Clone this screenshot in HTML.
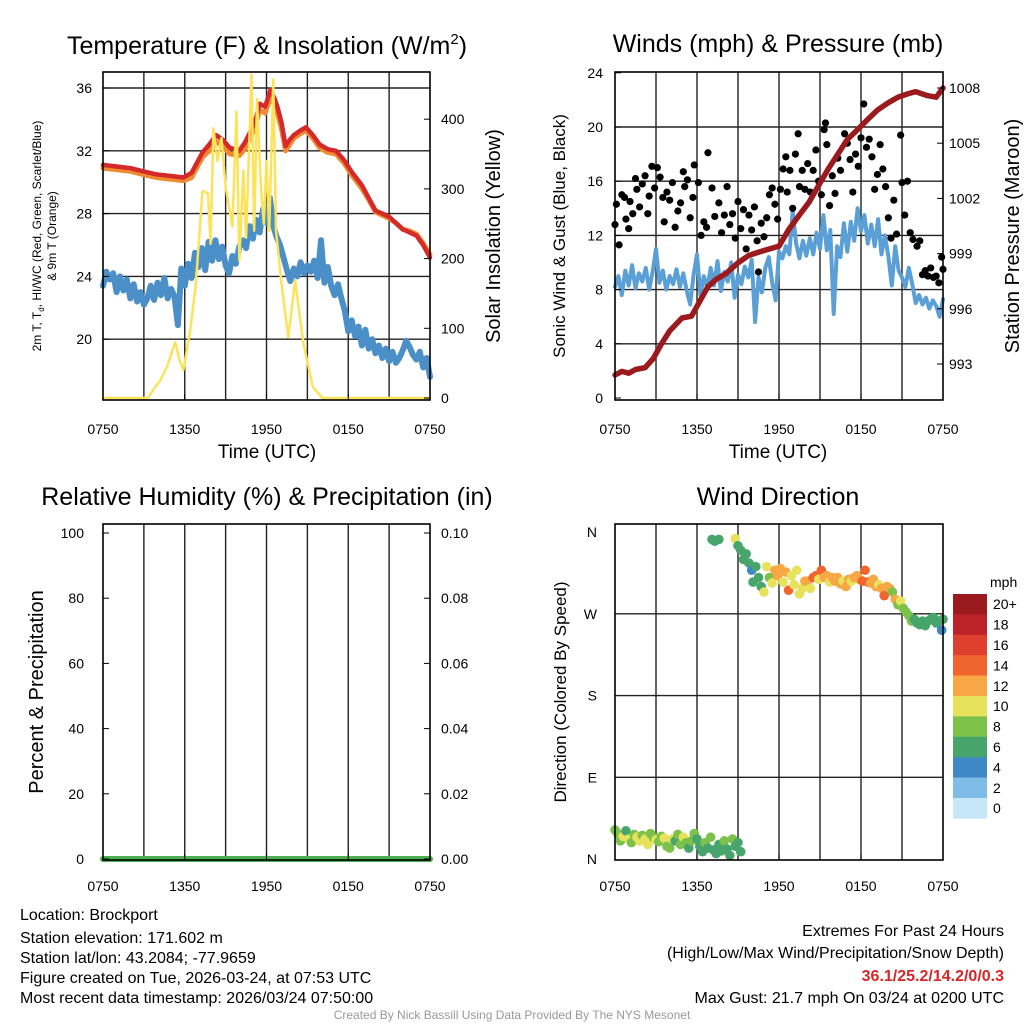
<!DOCTYPE html>
<html><head><meta charset="utf-8"><style>
html,body{margin:0;padding:0;background:#fff;}
svg{display:block;font-family:"Liberation Sans",Arial,sans-serif;}
</style></head><body>
<svg id="chart" width="1024" height="1024" viewBox="0 0 1024 1024">
<rect x="0" y="0" width="1024" height="1024" fill="#fff"/>
<g id="grid"></g><g id="marks"></g><g id="frames"></g>
<g font-size="25" text-anchor="middle" fill="#000">
<text x="267" y="54">Temperature (F) &amp; Insolation (W/m<tspan font-size="15" dy="-10">2</tspan><tspan dy="10">)</tspan></text>
<text x="778" y="52">Winds (mph) &amp; Pressure (mb)</text>
<text x="267" y="505">Relative Humidity (%) &amp; Precipitation (in)</text>
<text x="778" y="505">Wind Direction</text>
</g>
<g font-size="19" text-anchor="middle">
<text x="267" y="458">Time (UTC)</text>
<text x="778" y="458">Time (UTC)</text>
<text transform="translate(500,236) rotate(-90)" font-size="20">Solar Insolation (Yellow)</text>
<text transform="translate(565,236) rotate(-90)" font-size="17">Sonic Wind &amp; Gust (Blue, Black)</text>
<text transform="translate(1019,236) rotate(-90)" font-size="20">Station Pressure (Maroon)</text>
<text transform="translate(43,692) rotate(-90)" font-size="20">Percent &amp; Precipitation</text>
<text transform="translate(566,692) rotate(-90)" font-size="17">Direction (Colored By Speed)</text>
<text transform="translate(41,236) rotate(-90)" font-size="12">2m T, T<tspan font-size="8" dy="3">d</tspan><tspan dy="-3">, HI/WC (Red, Green, Scarlet/Blue)</tspan></text>
<text transform="translate(56,236) rotate(-90)" font-size="12">&amp; 9m T (Orange)</text>
</g>
<g font-size="16">
<text x="20" y="920">Location: Brockport</text>
<text x="20" y="943">Station elevation: 171.602 m</text>
<text x="20" y="963">Station lat/lon: 43.2084; -77.9659</text>
<text x="20" y="983">Figure created on Tue, 2026-03-24, at 07:53 UTC</text>
<text x="20" y="1003">Most recent data timestamp: 2026/03/24 07:50:00</text>
<g text-anchor="end">
<text x="1004" y="936">Extremes For Past 24 Hours</text>
<text x="1004" y="958">(High/Low/Max Wind/Precipitation/Snow Depth)</text>
<text x="1004" y="981" fill="#d62728" font-weight="bold">36.1/25.2/14.2/0/0.3</text>
<text x="1004" y="1003">Max Gust: 21.7 mph On 03/24 at 0200 UTC</text>
</g>
<text x="512" y="1019" font-size="12" fill="#999" text-anchor="middle">Created By Nick Bassill Using Data Provided By The NYS Mesonet</text>
</g>
<g id="ticklabels" font-size="14"></g>
<g id="colorbar"></g>
</svg>
<script>
// ---- data ----
var tempH=[0,1,2,2.9,3.9,4.9,5.9,6.5,7.3,7.8,8.3,8.8,9.3,10,10.4,10.8,11.2,11.5,11.9,12.3,12.6,12.8,13.1,13.4,13.7,14,14.5,14.9,15.4,15.9,16.5,17.1,17.7,18.3,19,19.5,20,20.5,21,21.5,22,22.5,23,23.5,24];
var tempV=[31.1,31.0,30.9,30.7,30.5,30.4,30.3,30.6,31.9,32.4,33.0,32.7,32.2,32.0,32.5,33.2,34.0,35.0,34.8,35.9,35.3,34.8,33.8,32.3,32.7,33.0,33.3,33.5,33.0,32.4,32.1,32.0,31.4,30.6,29.8,29.0,28.2,28.0,27.8,27.4,27.0,26.8,26.6,26.0,25.2];
var temp9V=[30.9,30.8,30.7,30.5,30.3,30.2,30.1,30.3,31.6,32.0,32.6,32.3,31.8,31.7,32.1,32.8,33.6,34.6,34.4,35.4,34.9,34.4,33.4,32.0,32.4,32.8,33.1,33.3,32.8,32.2,31.9,31.8,31.2,30.4,29.6,28.9,28.1,27.9,27.7,27.4,27.0,26.9,26.7,26.1,25.4];
var dewV=[23.4,24.3,23.8,24.2,23.0, 24.0,23.1,23.8,22.6, 23.5,22.4,23.0,22.2, 22.6,23.4,22.5,23.6, 22.8,23.9,22.6,23.2, 22.7,20.9,24.5,23.4, 24.8,23.9,25.5,24.6, 25.8,24.4,26.2,25.0, 26.3,25.1,25.9,24.7, 24.2,25.3,24.8,25.9, 26.3,25.8,27.2,26.4, 27.6,26.8,28.3,27.4, 29.0,27.2,26.5,26.0, 25.2,24.4,23.7,24.5, 24.0,24.9,24.2,24.7, 24.3,25.0,23.9,26.3, 23.6,24.6,23.4,22.8, 23.5,22.6,21.8,20.5, 21.2,20.2,20.8,19.6, 20.6,19.4,20.0,19.1, 19.6,18.8,19.4,18.6, 19.2,18.5,18.8,19.3, 19.9,19.5,19.0,18.7, 19.2,18.2,18.8,17.6];
var solH=[0,3.3,3.8,4.2,4.7,5.3,5.6,5.9,6.4,6.8,7.3,7.7,7.9,8.1,8.4,8.7,9.0,9.3,9.5,9.8,10.0,10.3,10.5,10.9,11.1,11.3,11.6,11.8,12.0,12.2,12.5,12.7,13.1,13.6,14.1,14.7,15.4,16.1,24];
var solW=[0,0,15,25,45,80,55,40,97,160,297,294,221,387,340,373,303,269,246,411,197,326,230,464,240,429,301,250,340,240,457,240,164,87,169,79,16,0,0];
var windV=[8.2,9.0,7.6,9.4,8.3, 9.8,8.1,9.2,8.6, 9.6,8.0,9.3,11.0, 8.5,9.4,8.0,9.0, 8.4,9.5,8.2,9.2, 7.9,6.9,9.1,10.6, 7.6,9.0,8.1,9.6, 8.3,10.1,7.9,9.3, 8.6,10.0,7.4,9.1, 8.4,9.7,8.9,10.2, 5.6,8.9,7.8,9.6, 10.4,8.5,7.2,10.8, 10.3,11.2,10.6,13.8, 11.4,10.3,11.6,10.5, 11.8,10.6,12.2,11.0, 13.5,10.9,12.4,6.2, 11.2,10.4,12.9,10.8, 13.0,11.6,14.0,12.3, 13.5,11.4,12.8,11.2, 13.2,10.6,12.0,10.5, 8.3,11.2,9.4,8.9, 8.2,9.6,8.4,7.0, 7.6,6.9,7.4,6.6, 7.2,6.8,6.0,7.3];
var gustH=[0.0,0.1,0.3,0.5,0.7,0.8,1.0,1.1,1.3,1.5,1.6,1.8,2.0,2.2,2.4,2.5,2.7,2.9,3.1,3.3,3.5,3.6,3.8,4.0,4.2,4.4,4.6,4.8,5.0,5.1,5.3,5.5,5.7,5.8,6.1,6.3,6.5,6.7,6.8,7.1,7.3,7.6,7.8,8.0,8.2,8.4,8.6,8.8,9.0,9.2,9.4,9.6,9.8,10.0,10.2,10.4,10.5,10.7,10.9,11.1,11.3,11.5,11.7,11.9,12.1,12.3,12.5,12.6,12.8,13.0,13.2,13.4,13.5,13.7,13.9,14.1,14.3,14.5,14.7,14.9,15.1,15.3,15.4,15.5,15.7,15.9,16.1,16.3,16.5,16.8,17.0,17.2,17.4,17.6,17.8,18.0,18.2,18.4,18.6,18.8,19.0,19.2,19.4,19.6,19.8,20.0,20.2,20.4,20.6,20.9,21.0,21.2,21.4,21.6,21.8,22.1,22.3,22.5,22.7,22.9,23.1,23.3,23.5,23.7,23.9,24.0];
var gustV=[12.8,14.3,11.3,15.0,14.8,13.2,12.5,14.5,13.6,16.2,15.4,14.1,15.8,16.4,13.6,14.9,17.1,15.5,17.0,16.3,14.8,13.0,15.2,14.6,15.9,12.6,13.8,14.4,16.7,15.6,16.1,13.3,14.8,17.2,15.9,12.0,13.0,12.6,18.1,15.5,13.4,14.4,12.2,13.5,15.6,12.8,13.6,11.8,14.5,12.5,13.9,11.0,13.5,12.4,14.1,11.6,9.3,12.9,11.9,13.3,15.0,15.5,14.3,13.2,15.4,16.9,17.8,15.2,16.8,14.0,18.0,19.5,15.6,16.8,15.4,17.3,15.2,16.8,18.3,16.0,15.0,19.8,20.3,18.7,14.2,16.4,15.1,17.7,16.8,19.5,18.8,17.6,15.2,18.0,17.1,19.2,21.7,18.5,19.1,17.8,15.4,16.5,18.7,16.9,15.6,13.3,11.8,14.6,12.1,19.4,15.9,13.5,16.0,12.2,11.7,11.2,11.6,9.1,9.4,9.0,9.6,8.9,9.0,8.5,10.4,9.5];
var presH=[0,0.5,1,1.5,2.2,2.8,3.4,4.0,4.9,5.6,6.2,6.8,7.4,8.1,9.0,9.8,10.6,11.5,12.0,12.7,13.4,14.2,14.9,15.6,16.3,17.0,17.7,18.5,19.2,20.0,20.7,21.5,22.0,22.8,23.5,24];
var presV=[992.4,992.6,992.5,992.7,992.8,993.3,994.1,994.8,995.5,995.6,996.4,997.2,997.6,997.9,998.5,998.9,999.1,999.3,999.4,1000.3,1001.0,1001.8,1002.7,1003.6,1004.4,1005.2,1005.7,1006.3,1006.8,1007.2,1007.5,1007.7,1007.8,1007.6,1007.5,1008.0];
var dirH=[0,0.2,0.4,0.6,0.8,1.0,1.2,1.4,1.6,1.8,2.0,2.2,2.4,2.6,2.8,3.0,3.2,3.4,3.6,3.8,4.0,4.2,4.4,4.6,4.8,5.0,5.2,5.4,5.6,5.8,6.0,6.2,6.4,6.6,6.8,7.0,7.2,7.4,7.6,7.8,8.0,8.2,8.4,8.6,8.8,9.0,9.2,
 7.1,7.3,7.6,8.8,9.0,9.2,9.4,9.6,9.8,10.0, 10.1,10.3,10.5,10.7,10.9,11.1,11.3,11.5,11.7,11.9, 12.1,12.3,12.5,12.7,12.9,13.1,13.3,13.5,13.7,13.9, 14.1,14.3,14.5,14.7,14.9,15.1,15.3,15.5,15.7,15.9, 16.1,16.3,16.5,16.7,16.9,17.1,17.3,17.5,17.7,17.9, 18.1,18.3,18.5,18.7,18.9,19.1,19.3,19.5,19.7,19.9, 20.1,20.3,20.5,20.7,20.9,21.1,21.3,21.5,21.7,21.9, 22.1,22.3,22.5,22.7,22.9,23.1,23.3,23.5,23.7,23.9,24.0];
var dirD=[32,28,20,25,31,22,18,27,24,20,26,22,16,28,24,21,19,25,23,14,12,22,20,27,16,24,18,12,20,28,22,14,8,18,12,24,10,6,16,9,20,11,4,22,14,18,8,
 352,350,352,353,345,340,330,336,326,318, 305,322,310,300,294,322,310,304,318,312, 320,305,316,296,312,302,318,292,298,306, 306,298,310,312,308,318,310,312,305,310, 306,310,303,306,300,308,306,310,312,308, 306,318,305,304,308,300,302,298,290,300, 298,294,286,280,284,276,272,268,262,264, 260,258,262,257,262,264,266,260,262,252,264];
var dirS=[8,8,9,10,7,10,9,8,10,10,9,10,10,9,8,10,9,8,10,9,9,10,7,8,9,10,8,7,9,8,6,7,6,8,6,8,7,6,7,6,8,7,6,8,7,6,7,
 7,7,7,10,7,7,6,6,7,4, 6,7,7,6,10,10,8,10,12,12, 12,10,12,14,10,10,11,10,10,12, 12,10,14,14,10,14,12,12,11,12, 12,12,12,11,12,12,10,12,12,13, 14,14,14,13,12,12,10,12,14,12, 12,9,12,8,10,8,8,8,8,7, 7,6,7,6,6,6,6,7,6,4,6];
var precipH=[0,24];
var precipV=[0,0];
var xTickLabels=["0750","1350","1950","0150","0750"];
var tempTicks=[20,24,28,32,36];
var solTicks=[0,100,200,300,400];
var windTicks=[0,4,8,12,16,20,24];
var presTicks=[993,996,999,1002,1005,1008];
var rhTicks=[0,20,40,60,80,100];
var rainTicks=["0.00","0.02","0.04","0.06","0.08","0.10"];
var dirTicks=["N","E","S","W","N"];
var cbLabels=["0","2","4","6","8","10","12","14","16","18","20+"];
var cbColors=["#c6e7f8","#80bce8","#3f88c6","#47a56c","#7cc24a","#e6e25b","#f7a744","#ef652d","#de3f2e","#be2229","#9a1a1d"];

// ---- scales ----
var L1=103,R1=430,L2=615,R2=943;
function x1(h){return L1+h*(R1-L1)/24;}
function x2(h){return L2+h*(R2-L2)/24;}
function yT(f){return 88+(36-f)*15.7;}
function yS(w){return 398-w*0.697;}
function yW(m){return 398-m*13.55;}
function yP(p){return 364-(p-993)*18.4;}
function yR(v){return 859-v*3.26;}
function yD(d){return 859-d*0.908;}

var NS="http://www.w3.org/2000/svg";
function el(tag,parent){var e=document.createElementNS(NS,tag);parent.appendChild(e);return e;}
var grid=document.getElementById('grid'),marks=document.getElementById('marks'),frames=document.getElementById('frames'),tl=document.getElementById('ticklabels'),cb=document.getElementById('colorbar');

function line(p,xa,ya,xb,yb,c,w){var e=el('line',p);e.setAttribute('x1',xa);e.setAttribute('y1',ya);e.setAttribute('x2',xb);e.setAttribute('y2',yb);e.setAttribute('stroke',c);e.setAttribute('stroke-width',w);return e;}
function txt(p,x,y,s,anchor){var e=el('text',p);e.setAttribute('x',x);e.setAttribute('y',y);e.setAttribute('text-anchor',anchor);e.textContent=s;return e;}

var panels=[[L1,72,R1,400,x1],[L2,72,R2,400,x2],[L1,524,R1,860,x1],[L2,524,R2,860,x2]];
panels.forEach(function(P,pi){
  for(var h=3;h<24;h+=3){
    var g=line(grid,P[4](h),P[1],P[4](h),P[3],'#222',1.4);
    
    
  }
  for(var i=0;i<5;i++){
    var t=txt(tl,P[4](i*6),pi<2?434:891,xTickLabels[i],'middle');
    
    
    line(frames,P[4](i*6),P[3],P[4](i*6),P[3]-6,'#000',1);
  }
  var f=el('rect',frames);
  f.setAttribute('x',P[0]);f.setAttribute('y',P[1]);f.setAttribute('width',P[2]-P[0]);f.setAttribute('height',P[3]-P[1]);
  f.setAttribute('fill','none');f.setAttribute('stroke','#000');f.setAttribute('stroke-width',1.6);
  
  
});
tempTicks.forEach(function(v){var y=yT(v);var g=line(grid,L1,y,R1,y,'#222',1.4);
  
  
  line(frames,L1,y,L1+6,y,'#000',1);
  var t=txt(tl,92,y+5,String(v),'end');
  
  });
solTicks.forEach(function(v){var y=yS(v);line(frames,R1-6,y,R1,y,'#000',1);
  var t=txt(tl,441,y+5,String(v),'start');
  
  });
windTicks.forEach(function(v){var y=yW(v);if(v>0&&v<24){var g=line(grid,L2,y,R2,y,'#222',1.4);
  
  }
  line(frames,L2,y,L2+6,y,'#000',1);
  var t=txt(tl,603,y+5,String(v),'end');
  
  });
presTicks.forEach(function(v){var y=yP(v);line(frames,R2-6,y,R2,y,'#000',1);
  var t=txt(tl,949,y+5,String(v),'start');
  
  });
rhTicks.forEach(function(v,i){var y=yR(v);line(frames,L1,y,L1+6,y,'#000',1);line(frames,R1-6,y,R1,y,'#000',1);
  var t=txt(tl,84,y+5,String(v),'end');
  
  
  var t2=txt(tl,441,y+5,rainTicks[i],'start');
  
  });
dirTicks.forEach(function(s,i){var y=yD(i*90);if(i>0&&i<4){var g=line(grid,L2,y,R2,y,'#222',1.4);
  
  }
  var t=txt(tl,597,y+5,s,'end');
  
  });

function poly(xs,ys,xf,yf,color,w,name){
  var pts=xs.map(function(h,i){return xf(h).toFixed(1)+','+yf(ys[i]).toFixed(1);}).join(' ');
  var p=el('polyline',marks);
  p.setAttribute('points',pts);p.setAttribute('fill','none');p.setAttribute('stroke',color);
  p.setAttribute('stroke-width',w);p.setAttribute('stroke-linejoin','round');p.setAttribute('stroke-linecap','round');
  
  
  return p;
}
var qH=dewV.map(function(v,i){return i*0.25;});
poly(qH,dewV,x1,yT,'#4a8fc7',6,'dewpoint-line');
poly(tempH,temp9V,x1,yT,'#f08a30',5,'temp-9m-line');
poly(tempH,tempV,x1,yT,'#d42a2a',4.5,'temp-2m-line');
poly(solH,solW,x1,yS,'#fbe35a',2.5,'insolation-line');
poly(qH,windV,x2,yW,'#5a9fd6',4,'wind-speed-line');
gustH.forEach(function(h,i){var c=el('circle',marks);
  c.setAttribute('cx',x2(h));c.setAttribute('cy',yW(gustV[i]));c.setAttribute('r',3.6);c.setAttribute('fill','#000');
  
  });
poly(presH,presV,x2,yP,'#9b1a1d',5.5,'pressure-line');
poly(precipH,precipV,x1,yR,'#4caf50',6,'precip-line');
dirH.forEach(function(h,i){var c=el('circle',marks);
  var k=Math.min(10,Math.floor(dirS[i]/2));
  c.setAttribute('cx',x2(h));c.setAttribute('cy',yD(dirD[i]));c.setAttribute('r',4.8);c.setAttribute('fill',cbColors[k]);
  
  });
var cbTop=594,cbH=20.4;
for(var i=0;i<11;i++){
  var k=10-i;var r=el('rect',cb);
  r.setAttribute('x',953);r.setAttribute('y',cbTop+i*cbH);r.setAttribute('width',34);r.setAttribute('height',cbH+0.3);r.setAttribute('fill',cbColors[k]);
  
  
  var t=txt(cb,993,cbTop+i*cbH+cbH/2+5,cbLabels[k],'start');t.setAttribute('font-size','14');
  
  
}
var u=txt(cb,990,587,'mph','start');u.setAttribute('font-size','14');


</script>
</body></html>
